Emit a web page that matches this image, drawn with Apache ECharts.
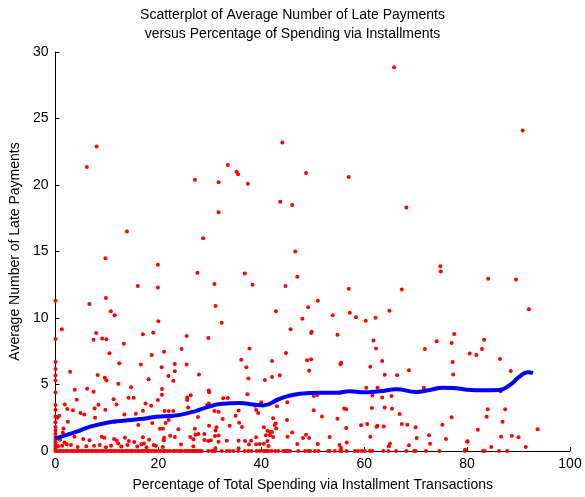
<!DOCTYPE html>
<html>
<head>
<meta charset="utf-8">
<script src="https://cdn.jsdelivr.net/npm/echarts@6/dist/echarts.min.js"></script>
<style>
  html, body { margin: 0; padding: 0; background: #fff; }
  #chart { width: 585px; height: 497px; }
</style>
</head>
<body>
<div id="chart"></div>
<script>
// values: [percent via installments, avg late payments]
const titleLines = ['Scatterplot of Average Number of Late Payments', 'versus Percentage of Spending via Installments'];
const xTicks = [0, 20, 40, 60, 80, 100];
const yTicks = [0, 5, 10, 15, 20, 25, 30];

const upperPoints = [
  [6.1, 21.35], [8.0, 22.9], [27.1, 20.4], [31.7, 20.2], [33.5, 21.5], [35.2, 21.0], [35.5, 20.8],
  [37.4, 20.1], [44.1, 23.2], [48.7, 20.9], [43.7, 18.75], [46.0, 18.5], [31.7, 17.95], [13.9, 16.5],
  [28.7, 16.0], [46.6, 15.0], [9.7, 14.5], [19.9, 14.0], [27.6, 13.4], [36.8, 13.35], [47.0, 13.1],
  [16.0, 12.4], [19.9, 12.3], [30.9, 12.55], [38.3, 12.5], [44.7, 12.4], [6.6, 11.05], [9.8, 11.5],
  [31.1, 10.9], [49.1, 10.8], [65.8, 28.85], [90.8, 24.1], [57.0, 20.6], [68.2, 18.3], [74.8, 13.9],
  [74.9, 13.5], [84.1, 12.95], [89.5, 12.9], [57.0, 12.2], [67.3, 12.15], [51.0, 11.3], [92.0, 10.65],
  [10.75, 10.5], [11.5, 10.2], [42.85, 10.5], [53.9, 10.2], [57.2, 10.4], [64.9, 10.55], [62.2, 10.02],
  [58.4, 10.05], [20.0, 9.75]
];

const midPoints = [
  [1.24, 9.15], [7.9, 8.87], [7.4, 8.37], [9.07, 8.45], [9.9, 8.4], [13.3, 8.07], [17.0, 8.77], [19.0, 8.9],
  [10.5, 7.35], [18.7, 7.22], [2.85, 5.96], [12.4, 6.6], [16.6, 6.5], [8.2, 5.72], [9.6, 5.5], [9.9, 5.3],
  [12.24, 5.06], [18.1, 5.4], [14.7, 4.8], [6.15, 4.68], [7.4, 4.46], [3.76, 4.6], [4.15, 3.86], [14.2, 4.0],
  [15.2, 4.0], [11.3, 3.9], [1.8, 3.5], [8.36, 3.48], [7.6, 3.2], [2.3, 3.15], [3.4, 3.06], [9.7, 3.1],
  [11.85, 3.5], [17.5, 3.57], [17.0, 3.03], [18.6, 3.4], [0.72, 2.65], [0.4, 2.5], [4.86, 2.85], [5.6, 2.75],
  [13.4, 2.75], [15.6, 2.8], [7.7, 2.5], [11.5, 2.2], [2.4, 2.2], [18.8, 2.1],
  [32.3, 9.65], [25.5, 8.65], [29.7, 8.5], [21.1, 7.47], [24.5, 7.67], [37.7, 7.7], [36.1, 6.86], [23.2, 6.54],
  [25.5, 6.51], [20.65, 6.29], [23.2, 6.0], [37.1, 6.3], [21.95, 5.64], [22.9, 5.29], [27.9, 5.76], [37.5, 5.46],
  [20.7, 4.66], [20.7, 4.23], [19.9, 3.83], [29.8, 4.54], [29.85, 4.41], [25.6, 4.03], [25.6, 3.83], [26.3, 4.2],
  [29.8, 3.58], [32.6, 3.96], [33.5, 3.98], [37.3, 4.26], [25.8, 3.28], [21.2, 3.0], [22.0, 3.0], [22.9, 3.0],
  [29.5, 3.46], [30.9, 3.0], [31.7, 2.95], [39.0, 3.08], [35.6, 3.05], [39.4, 2.85], [27.7, 2.55], [32.5, 2.4],
  [35.0, 2.65], [22.0, 2.33], [21.4, 2.1], [35.7, 2.13],
  [48.0, 9.95], [45.7, 9.15], [49.8, 8.97], [49.7, 8.87], [54.8, 8.74], [44.8, 7.37], [48.9, 6.82], [49.7, 6.89],
  [42.1, 6.77], [55.5, 6.64], [55.4, 6.52], [49.3, 6.04], [43.6, 5.69], [42.1, 5.56], [40.7, 5.34], [50.2, 4.14],
  [50.9, 4.21], [40.0, 3.66], [45.06, 3.66], [43.05, 3.36], [38.8, 3.41], [50.2, 3.06], [56.1, 3.2], [56.5, 3.13],
  [51.8, 2.6], [54.8, 2.43], [45.0, 2.33], [42.3, 2.46], [42.8, 2.06],
  [60.3, 9.8], [77.5, 8.8], [74.1, 8.25], [77.0, 8.12], [61.8, 8.3], [62.3, 7.7], [71.8, 7.67], [80.5, 7.34],
  [63.5, 6.77], [77.2, 6.69], [61.2, 6.34], [68.7, 6.07], [64.0, 5.74], [66.4, 5.69], [77.3, 5.76], [60.4, 4.76],
  [62.6, 4.76], [71.6, 4.76], [61.6, 4.18], [63.5, 4.03], [65.3, 4.13], [61.5, 3.23], [64.0, 3.28], [65.4, 3.18],
  [66.9, 2.78], [77.0, 2.53], [60.6, 2.03], [67.3, 2.03],
  [83.3, 8.37], [82.9, 7.67], [81.8, 7.22], [86.4, 6.92], [88.5, 6.02], [86.5, 4.49], [84.0, 3.14], [87.4, 3.14],
  [83.8, 2.58], [86.9, 2.2]
];

const lowPoints = [
  [16.1, 1.95], [1.56, 1.7], [1.43, 1.4], [4.6, 1.5], [9.0, 1.07], [9.5, 1.0], [11.4, 0.9], [11.9, 0.78],
  [13.5, 1.0], [12.2, 0.57], [14.25, 0.75], [15.3, 0.68], [17.0, 1.03], [17.2, 0.57], [18.2, 0.85], [1.75, 0.63],
  [0.9, 0.85], [2.2, 0.5], [6.6, 0.8], [3.7, 1.07], [5.4, 0.9], [4.3, 0.3], [9.8, 0.28], [12.8, 0.33],
  [15.9, 0.33], [17.7, 0.28], [0.5, 0.35], [1.3, 0.4], [3.0, 0.45], [6.0, 0.35], [7.5, 0.4], [8.6, 0.45],
  [10.8, 0.4], [14.0, 0.45], [16.7, 0.5], [19.5, 0.4],
  [23.9, 1.63], [20.3, 1.68], [20.9, 1.68], [29.85, 1.9], [31.3, 1.78], [33.85, 1.9], [36.25, 1.8], [27.1, 1.68],
  [22.3, 1.15], [23.2, 1.05], [21.1, 1.0], [21.05, 0.8], [26.2, 1.05], [27.2, 1.22], [27.8, 1.27], [28.95, 1.27],
  [31.1, 1.55], [31.7, 1.17], [31.0, 1.12], [28.95, 0.83], [29.7, 0.75], [30.2, 0.8], [26.8, 0.88], [24.4, 0.48],
  [26.8, 0.35], [31.7, 0.7], [33.3, 0.78], [35.6, 0.78], [36.85, 0.75], [38.0, 0.78], [39.0, 0.5], [37.6, 0.48],
  [35.6, 0.2], [31.1, 0.2], [19.1, 0.45], [20.85, 0.3],
  [42.6, 1.96], [59.4, 1.93], [42.9, 1.7], [40.5, 1.78], [41.2, 1.53], [42.1, 1.43], [41.7, 1.43], [56.5, 1.73],
  [46.0, 1.4], [40.9, 1.18], [41.7, 1.18], [42.3, 1.05], [45.1, 1.08], [48.7, 1.22], [48.1, 0.98], [49.3, 0.98],
  [53.3, 1.05], [39.0, 1.03], [41.2, 0.75], [40.5, 0.55], [39.7, 0.53], [47.0, 0.53], [51.0, 0.53], [41.4, 0.38],
  [55.2, 0.45], [56.6, 0.63], [55.5, 0.23],
  [62.4, 1.83], [62.6, 1.9], [63.8, 1.85], [68.4, 1.98], [70.0, 1.78], [75.2, 1.98], [61.2, 1.08], [70.2, 0.98],
  [72.6, 1.18], [75.9, 0.9], [72.8, 0.55], [68.7, 0.43], [65.0, 0.55], [64.8, 0.35], [80.0, 0.7], [79.6, 0.1],
  [82.1, 1.6], [93.7, 1.63], [80.1, 0.73], [86.6, 1.08], [88.7, 1.15], [90.0, 1.03], [84.7, 0.3], [91.4, 0.3]
];

// points sitting on x = 0
const axisColumnY = [11.3, 8.42, 6.7, 6.16, 5.68, 5.3, 4.4, 3.46, 3.1, 2.6, 2.17, 1.8, 1.55, 1.3, 1.05, 0.85, 0.65, 0.45, 0.3, 0.15];

// points sitting on y = 0
const zeroRowX = [
  0, 0.3, 0.7, 1.1, 1.5, 2.0, 2.4, 2.9, 3.3, 3.8, 4.2, 4.6, 5.1, 5.5, 6.0, 6.4, 6.9, 7.3, 7.8, 8.2, 8.7,
  9.1, 9.6, 10.0, 10.5, 10.9, 11.4, 11.8, 12.3, 12.8, 13.2, 13.7, 14.1, 14.6, 15.0, 15.5, 16.0, 16.4, 16.9,
  17.3, 17.8, 18.2, 18.7, 19.2, 19.6, 20.1, 20.5, 21.0, 21.3, 21.8, 22.3, 22.9, 23.2, 23.7, 24.2, 24.6, 25.2,
  25.5, 25.8, 26.2, 26.5, 26.8, 27.1, 27.4, 27.8, 28.1, 28.4, 29.7, 30.4, 30.7, 31.0, 32.3, 33.3, 33.9, 34.6,
  35.5, 36.8, 37.5, 38.1, 39.1, 39.7, 40.4, 40.7, 41.0, 41.4, 42.0, 42.7, 43.3, 44.3, 44.6, 44.9, 45.2, 45.6,
  47.2, 48.5, 49.1, 49.5, 50.4, 51.1, 53.0, 53.3, 54.3, 55.3, 55.6, 56.6, 58.2, 58.8, 60.1, 59.5, 61.1, 61.6,
  63.7, 64.7, 66.2, 68.2, 69.7, 70.0, 72.0, 74.6, 79.6, 83.1, 83.4, 86.2, 87.8
];

// smoothed trend (blue curve)
const trendX = [0, 3.55, 6.8, 10.0, 13.2, 16.4, 19.7, 22.9, 26.2, 29.4, 32.0, 35.9, 38.4, 40.4, 43.6, 47.5, 51.4, 54.6,
  57.2, 59.8, 63.0, 66.3, 70.1, 72.7, 75.3, 77.3, 79.9, 83.1, 86.3, 88.3, 90.2, 91.8, 92.8];
const trendY = [0.95, 1.38, 1.83, 2.13, 2.28, 2.4, 2.58, 2.65, 2.9, 3.28, 3.53, 3.6, 3.5, 3.43, 3.93, 4.3, 4.38, 4.38,
  4.5, 4.41, 4.49, 4.64, 4.44, 4.59, 4.76, 4.74, 4.61, 4.56, 4.59, 4.96, 5.59, 5.92, 5.86];

const scatterData = upperPoints.concat(midPoints, lowPoints,
  axisColumnY.map(y => [0, y]), zeroRowX.map(x => [x, 0]));
const trendData = trendX.map((x, i) => [x, trendY[i]]);

const font = 'Liberation Sans, Arial, Helvetica, sans-serif';

const chart = echarts.init(document.getElementById('chart'));
chart.setOption({
  animation: false,
  title: {
    text: titleLines.join('\n'),
    left: 'center',
    top: 1,
    textStyle: { fontSize: 14, fontWeight: 'normal', color: '#000', fontFamily: font, lineHeight: 19 }
  },
  grid: { left: 55, right: 15, top: 52, bottom: 46 },
  xAxis: {
    type: 'value', min: xTicks[0], max: xTicks[xTicks.length - 1], interval: 20,
    name: 'Percentage of Total Spending via Installment Transactions',
    nameLocation: 'middle', nameGap: 27,
    nameTextStyle: { fontSize: 14, color: '#000', fontFamily: font },
    axisLine: { lineStyle: { color: '#000', width: 1 } },
    axisTick: { inside: true, length: 4, lineStyle: { color: '#000' } },
    axisLabel: { color: '#000', fontSize: 14, fontFamily: font, margin: 6 },
    splitLine: { show: false }
  },
  yAxis: {
    type: 'value', min: yTicks[0], max: yTicks[yTicks.length - 1], interval: 5,
    name: 'Average Number of Late Payments',
    nameLocation: 'middle', nameGap: 29,
    nameTextStyle: { fontSize: 14, color: '#000', fontFamily: font },
    axisLine: { show: true, lineStyle: { color: '#000', width: 1 } },
    axisTick: { show: true, inside: true, length: 4, lineStyle: { color: '#000' } },
    axisLabel: { color: '#000', fontSize: 14, fontFamily: font, margin: 7 },
    splitLine: { show: false }
  },
  series: [
    {
      type: 'scatter',
      data: scatterData,
      symbol: 'circle',
      symbolSize: 4,
      itemStyle: { color: '#ff0000', opacity: 1 },
      clip: false,
      z: 2
    },
    {
      type: 'line',
      data: trendData,
      smooth: true,
      showSymbol: false,
      symbol: 'none',
      lineStyle: { color: '#0000ff', width: 4 },
      z: 3
    }
  ]
});
</script>
</body>
</html>
